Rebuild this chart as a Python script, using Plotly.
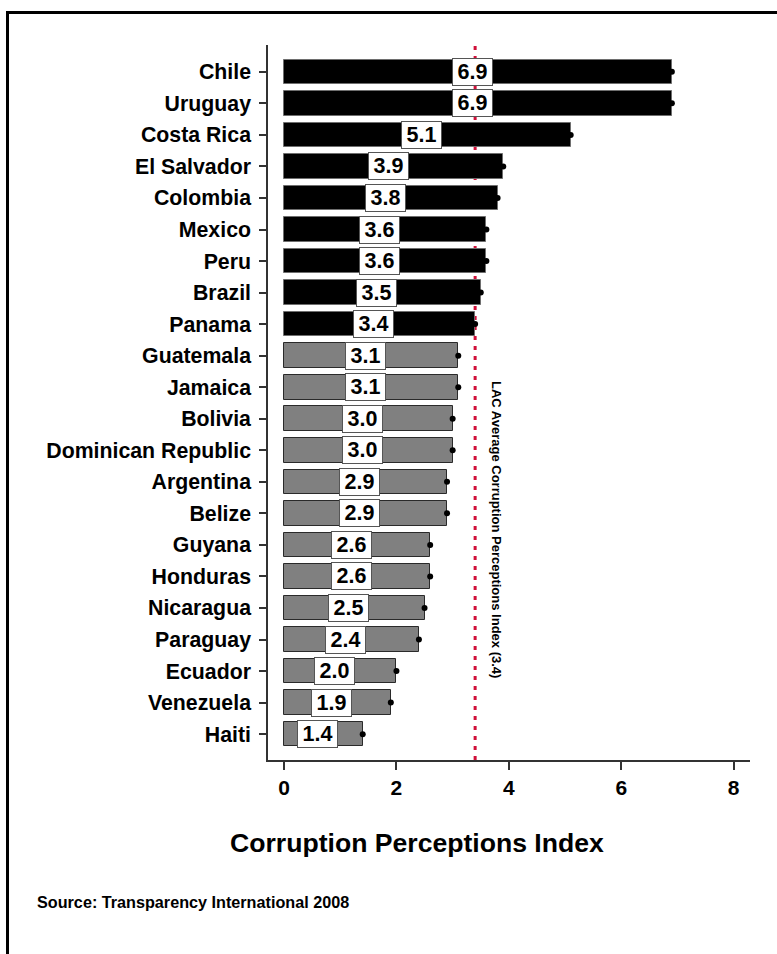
import plotly.graph_objects as go

# Corruption Perceptions Index, Latin America & Caribbean, 2008
countries = ["Chile", "Uruguay", "Costa Rica", "El Salvador", "Colombia", "Mexico",
             "Peru", "Brazil", "Panama", "Guatemala", "Jamaica", "Bolivia",
             "Dominican Republic", "Argentina", "Belize", "Guyana", "Honduras",
             "Nicaragua", "Paraguay", "Ecuador", "Venezuela", "Haiti"]
cpi = [6.9, 6.9, 5.1, 3.9, 3.8, 3.6, 3.6, 3.5, 3.4, 3.1, 3.1, 3.0,
       3.0, 2.9, 2.9, 2.6, 2.6, 2.5, 2.4, 2.0, 1.9, 1.4]
lac_average = 3.4
x_ticks = [0, 2, 4, 6, 8]

W, H = 777, 954
ML, MR, MT, MB = 268, 27, 45, 194
PW, PH = W - ML - MR, H - MT - MB


def px_x(p):
    return (p - ML) / PW


def px_y(p):
    return (H - MB - p) / PH


FONT = "Liberation Sans, Arial, Helvetica, sans-serif"

above = [v >= lac_average for v in cpi]
fill = ["#000000" if a else "#808080" for a in above]
edge = ["#6e6e6e" if a else "#2a2a2a" for a in above]

fig = go.Figure()
fig.add_trace(go.Bar(
    x=cpi, y=countries, orientation="h", width=0.78,
    marker=dict(color=fill, line=dict(color=edge, width=1)),
    hoverinfo="x+y", showlegend=False,
))
fig.add_trace(go.Scatter(
    x=cpi, y=countries, mode="markers",
    marker=dict(color="black", size=6), showlegend=False, hoverinfo="skip",
))

# value boxes inside each bar
for c, v in zip(countries, cpi):
    fig.add_annotation(
        x=v / 2 - 0.1, y=c, xref="x", yref="y", text=f"{v:.1f}",
        xanchor="center", yanchor="middle",
        showarrow=False, bgcolor="white", bordercolor="#555555", borderwidth=1,
        borderpad=0, width=39, height=26,
        font=dict(family=FONT, size=21.5, color="black", weight="bold"),
    )

# regional average reference line
fig.add_shape(type="line", x0=lac_average, x1=lac_average, y0=0, y1=1,
              xref="x", yref="paper", layer="below",
              line=dict(color="#d0103a", width=3, dash="4px,6px"))
fig.add_annotation(
    x=px_x(497), y=px_y(529), xref="paper", yref="paper",
    xanchor="center", yanchor="middle",
    text=f"LAC Average Corruption Perceptions Index ({lac_average})",
    textangle=90, showarrow=False,
    font=dict(family=FONT, size=13, color="black", weight="bold"),
)

# axis title and source note
fig.add_annotation(
    x=px_x(417), y=px_y(843), xref="paper", yref="paper",
    xanchor="center", yanchor="middle",
    text="Corruption Perceptions Index", showarrow=False,
    font=dict(family=FONT, size=26.6, color="black", weight="bold"),
)
fig.add_annotation(
    x=px_x(35), y=px_y(902), xref="paper", yref="paper",
    xanchor="left", yanchor="middle",
    text="Source: Transparency International 2008", showarrow=False,
    font=dict(family=FONT, size=16.2, color="black", weight="bold"),
)

# outer frame
fig.add_shape(type="rect", xref="paper", yref="paper",
              x0=px_x(7.5), x1=px_x(800), y0=px_y(990), y1=px_y(12.5),
              line=dict(color="black", width=3), fillcolor="rgba(0,0,0,0)")

fig.update_layout(
    width=W, height=H,
    margin=dict(l=ML, r=MR, t=MT, b=MB, pad=0),
    paper_bgcolor="white", plot_bgcolor="white",
    bargap=0,
    xaxis=dict(
        range=[-0.285, 8.29], tickvals=x_ticks, ticktext=[str(t) for t in x_ticks],
        showgrid=False, zeroline=False, showline=True, linecolor="#333333", linewidth=1.5,
        ticks="outside", ticklen=8, tickwidth=1.5, tickcolor="#333333",
        tickfont=dict(family=FONT, size=21, color="black", weight="bold"),
    ),
    yaxis=dict(
        type="category", categoryorder="array", categoryarray=countries,
        range=[len(countries) - 1 + 0.82, -0.85],
        showgrid=False, zeroline=False, showline=True, linecolor="#333333", linewidth=1.5,
        ticks="outside", ticklen=7, tickwidth=1.5, tickcolor="#333333",
        ticklabelstandoff=4,
        tickfont=dict(family=FONT, size=21.3, color="black", weight="bold"),
    ),
)

fig.write_html("out.html")
